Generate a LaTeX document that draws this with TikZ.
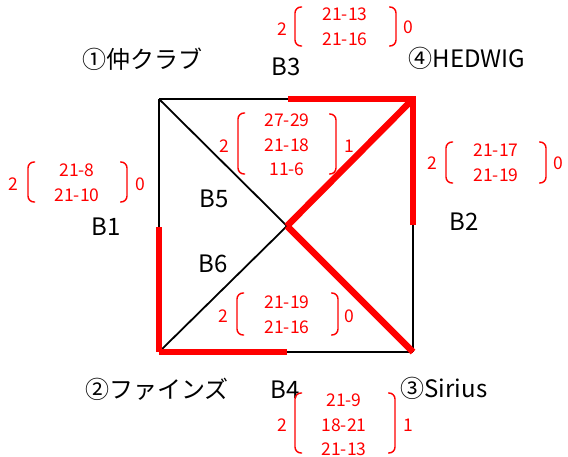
\documentclass[tikz,border=0pt]{standalone}
\usepackage{fontspec}
\setmainfont{Noto Sans CJK JP}
\tikzset{
  blk/.style={draw=black, line width=2pt},
  redline/.style={draw=red, line width=6.5pt},
  lbl/.style={font=\fontsize{24}{28}\selectfont, inner sep=0pt},
  num/.style={text=red, font=\fontsize{17.5}{24.5}\selectfont, inner sep=0pt, align=center},
  paren/.style={draw=red, line width=1.4pt, rounded corners=6pt},
}
\newcommand\mylp[3]{\draw[paren] (#1+7,#2) -- (#1,#2) -- (#1,#3) -- (#1+7,#3);}
\newcommand\myrp[3]{\draw[paren] (#1-7,#2) -- (#1,#2) -- (#1,#3) -- (#1-7,#3);}
\begin{document}
\begin{tikzpicture}[x=1pt, y=-1pt]
\useasboundingbox (0,0) rectangle (568,456);
% corners and midpoints
\coordinate (TL) at (159,99);
\coordinate (TR) at (413,99);
\coordinate (BL) at (159,352);
\coordinate (BR) at (413,352);
\coordinate (C)  at (287,226);
\coordinate (T)  at (288,99);
\coordinate (L)  at (159,227);
\coordinate (R)  at (413,225);
\coordinate (B)  at (287,352);
% black edges
\draw[blk] (TL) -- (T);
\draw[blk] (TL) -- (L);
\draw[blk] (B) -- (BR);
\draw[blk] (R) -- (BR);
\draw[blk, line width=1.8pt] (TL) -- (C);
\draw[blk, line width=1.8pt] (BL) -- (C);
% red edges
\draw[redline, line join=miter] (T) -- (TR) -- (R);
\draw[redline] (C) -- (TR);
\draw[redline] (C) -- (BR);
\draw[redline] (L) -- (BL);
\draw[redline] (BL) -- (B);
% black labels
\node[lbl] (n1) at (142,59) {①仲クラブ};
\node[lbl] (b3) at (286,67) {B3};
\node[lbl] (n4) at (467,58) {④HEDWIG};
\node[lbl] (b1) at (106,227) {B1};
\node[lbl] (b5) at (214,199) {B5};
\node[lbl] (b6) at (213,264) {B6};
\node[lbl] (b2) at (464,222) {B2};
\node[lbl] (n2) at (157,389) {②ファインズ};
\node[lbl] (b4) at (285,390) {B4};
\node[lbl] (n3) at (444,388) {③Sirius};
% red groups
% top (B3)
\node[num] (g3a) at (282,29) {2};
\node[num] (g3) at (345,27) {21-13\\21-16};
\node[num] (g3b) at (408,27) {0};
\mylp{295}{7}{46}
\myrp{396}{7}{46}
% center (B5)
\node[num] (g5a) at (224,146) {2};
\node[num] (g5) at (287,145) {27-29\\21-18\\11-6};
\node[num] (g5b) at (349,146) {1};
\mylp{238}{113}{174}
\myrp{336}{114}{174}
% left (B1)
\node[num] (g1a) at (13,184) {2};
\node[num] (g1) at (77,183) {21-8\\21-10};
\node[num] (g1b) at (140,184) {0};
\mylp{28}{162}{202}
\myrp{127}{162}{202}
% right (B2)
\node[num] (g2a) at (432,163) {2};
\node[num] (g2) at (496,163) {21-17\\21-19};
\node[num] (g2b) at (558,163) {0};
\mylp{446}{142}{183}
\myrp{546}{142}{183}
% bottom centre (B6)
\node[num] (g6a) at (223,316) {2};
\node[num] (g6) at (287,315) {21-19\\21-16};
\node[num] (g6b) at (349,316) {0};
\mylp{237}{293}{335}
\myrp{338}{293}{335}
% bottom (B4)
\node[num] (g4a) at (282,425) {2};
\node[num] (g4) at (344,425) {21-9\\18-21\\21-13};
\node[num] (g4b) at (408,425) {1};
\mylp{295}{393}{453}
\myrp{395}{393}{453}
\end{tikzpicture}
\end{document}
